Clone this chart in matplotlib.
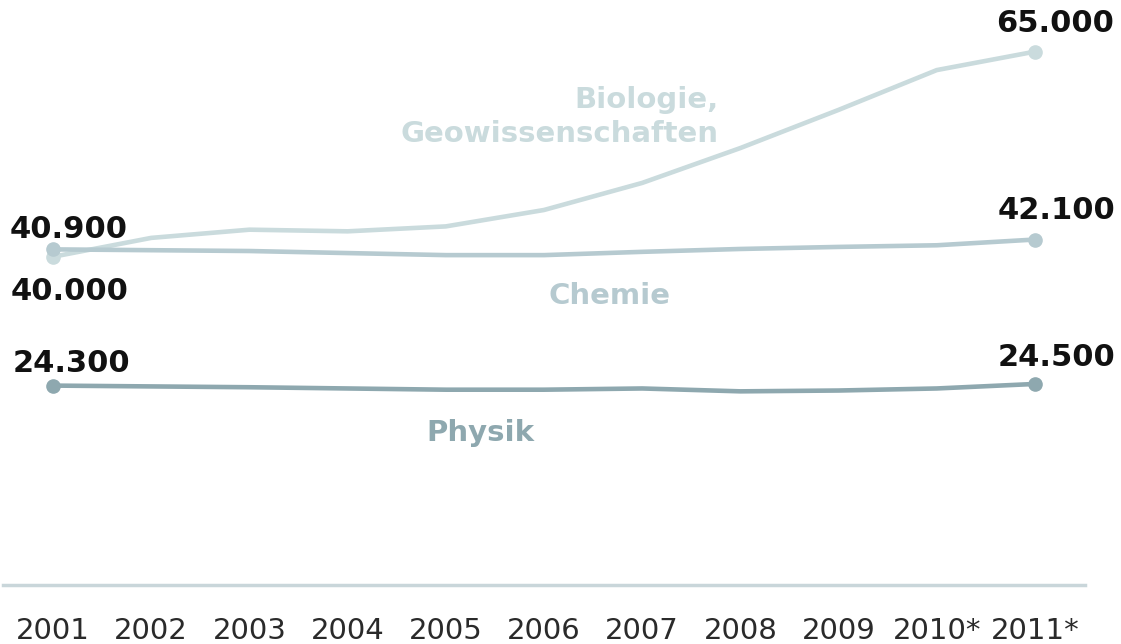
import matplotlib.pyplot as plt

years = ['2001', '2002', '2003', '2004', '2005', '2006', '2007', '2008', '2009', '2010*', '2011*']
biologie = [40000, 42300, 43300, 43100, 43700, 45700, 49000, 53250, 57900, 62750, 65000]
chemie = [40900, 40800, 40700, 40450, 40200, 40200, 40600, 40950, 41200, 41400, 42100]
physik = [24300, 24200, 24100, 23950, 23800, 23800, 23950, 23600, 23700, 23950, 24500]

c_bio = '#cadbdd'
c_chem = '#b6cad0'
c_phys = '#8ea8af'

x = list(range(len(years)))

fig = plt.figure(figsize=(11.21, 6.44), dpi=100)
ax = fig.add_axes([0, 0, 1, 1])
ax.set_xlim(-0.54, 10.876)
ax.set_ylim(-7190, 71290)
ax.axis('off')

for vals, col in [(biologie, c_bio), (chemie, c_chem), (physik, c_phys)]:
    ax.plot(x, vals, color=col, lw=3.3, solid_capstyle='round',
            solid_joinstyle='round', zorder=2)
    ax.plot([x[0], x[-1]], [vals[0], vals[-1]], 'o', color=col, ms=9.5, zorder=3)

# baseline
ax.axhline(0, xmin=0.003, xmax=0.968, color='#c9d6da', lw=2.5)

for i, lab in enumerate(years):
    ax.text(i, -5600, lab, ha='center', va='center', fontsize=21,
            family='DejaVu Sans', color='#2a2a2a')

# value labels at both ends
bold = dict(fontsize=22, fontweight='bold', family='DejaVu Sans', color='#111111',
            ha='center', va='center', textcoords='offset pixels')
ax.annotate(f"{chemie[0]:,}".replace(',', '.'), (x[0], chemie[0]), xytext=(16, 20), **bold)
ax.annotate(f"{biologie[0]:,}".replace(',', '.'), (x[0], biologie[0]), xytext=(17, -35), **bold)
ax.annotate(f"{physik[0]:,}".replace(',', '.'), (x[0], physik[0]), xytext=(18, 22), **bold)
ax.annotate(f"{biologie[-1]:,}".replace(',', '.'), (x[-1], biologie[-1]), xytext=(20, 28), **bold)
ax.annotate(f"{chemie[-1]:,}".replace(',', '.'), (x[-1], chemie[-1]), xytext=(22, 29), **bold)
ax.annotate(f"{physik[-1]:,}".replace(',', '.'), (x[-1], physik[-1]), xytext=(22, 26), **bold)

# series labels
lab = dict(fontsize=21, fontweight='bold', family='DejaVu Sans')
ax.text(6.78, 57030, 'Biologie,\nGeowissenschaften', ha='right', va='center',
        multialignment='right', linespacing=1.25, color=c_bio, **lab)
ax.text(5.67, 35218, 'Chemie', ha='center', va='center', color=c_chem, **lab)
ax.text(4.35, 18523, 'Physik', ha='center', va='center', color=c_phys, **lab)

fig.savefig('out.png', dpi=100)
